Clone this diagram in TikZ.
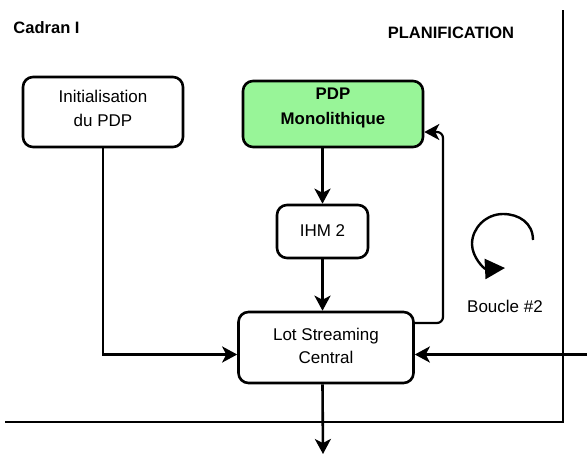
\documentclass[tikz,border=0pt]{standalone}
\usepackage{fontspec}
\setmainfont{Liberation Sans}
\usetikzlibrary{arrows.meta,calc}
\definecolor{pdpgreen}{RGB}{152,245,152}
\begin{document}
\begin{tikzpicture}[x=1pt,y=-1pt,
  box/.style={draw,line width=2.6pt,rounded corners=10pt,inner sep=0pt},
  txt/.style={align=center,inner sep=0pt,font=\fontsize{17}{24}\selectfont},
  conn/.style={line width=2.6pt,-{Stealth[length=15pt,width=16pt,inset=4pt]}},
  frame/.style={line width=2pt},
  title/.style={font=\fontsize{16.5}{18}\bfseries\selectfont}]
\useasboundingbox (0,0) rectangle (587,455);
\node[title] (cadran) at (46.5,28) {Cadran I};
\node[title] (plan) at (451,33) {PLANIFICATION};
% boxes
\node[box,minimum width=160pt,minimum height=70pt] (init) at (103,112) {};
\node[txt] (inittext) at (103,108) {Initialisation\\du PDP};
\node[box,fill=pdpgreen,minimum width=180pt,minimum height=66pt] (pdp) at (333,114) {};
\node[txt,font=\fontsize{16.8}{25}\bfseries\selectfont] (pdptext) at (333,107.5) {PDP\\Monolithique};
\node[box,minimum width=91pt,minimum height=53pt] (ihm) at (322.5,231.5) {};
\node[txt] (ihmtext) at (322.5,231) {IHM 2};
\node[box,minimum width=175pt,minimum height=71pt] (ls) at (326,347.5) {};
\node[txt,font=\fontsize{17}{23}\selectfont] (lstext) at (326,345.5) {Lot Streaming\\Central};
\node[txt] (boucle) at (505,306) {Boucle \#2};
% frame
\coordinate (ftop) at (563,10);
\coordinate (fcorner) at (563,422);
\coordinate (fleft) at (5,422);
\draw[frame] (ftop) -- (fcorner) -- (fleft);
% connectors
\draw[conn] (ihm.north |- pdp.south) -- (ihm.north);
\draw[conn] (ihm.south) -- (ihm.south |- ls.north);
\coordinate (lsL) at ([yshift=-7pt]ls.west);
\coordinate (lsR) at ([yshift=-7pt]ls.east);
\draw[conn] (init.south) |- (lsL);
\coordinate (rin) at (587,354.5);
\coordinate (rmid) at (495,354.5);
\draw[line width=3.4pt] (rin) -- (rmid);
\draw[conn] (rin) -- (lsR);
\coordinate (bout) at (323,454);
\draw[conn] (ls.south -| ihm.south) -- (bout);
\coordinate (fbA) at (443,323);
\coordinate (fbB) at (443,132);
\draw[conn,line width=2.2pt,rounded corners=6pt] ([yshift=24.5pt]ls.east) -- (fbA) -- (fbB) -- (pdp.east |- fbB);
% loop arrow
\coordinate (lstart) at (533,240);
\coordinate (ltip) at (505,268);
\draw[line width=2.4pt,-{Triangle[length=20pt,width=20pt]}] (lstart)
  .. controls (533,223) and (519,214) .. (503,214)
  .. controls (486,214) and (472,228) .. (472,244)
  .. controls (472,257) and (484,269) .. (ltip);
\end{tikzpicture}
\end{document}
